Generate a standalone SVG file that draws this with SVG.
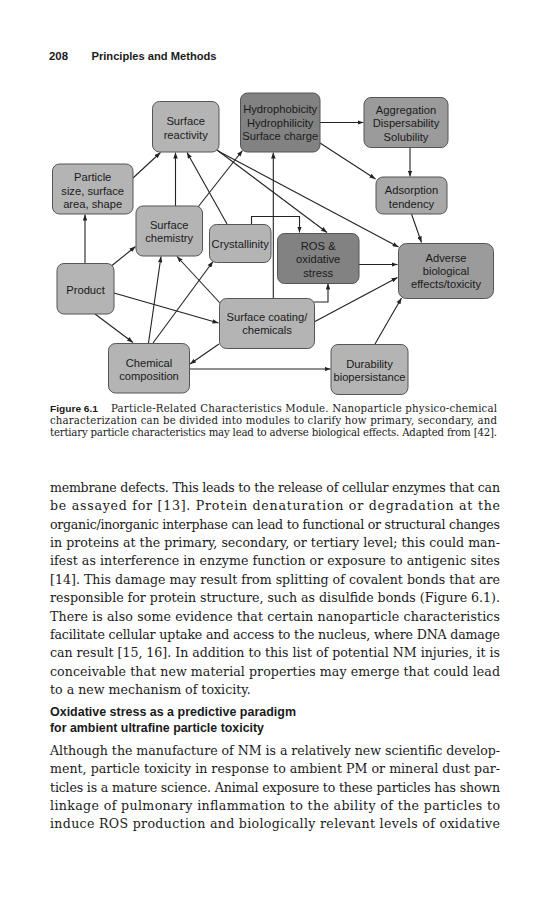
<svg xmlns="http://www.w3.org/2000/svg" width="552" height="900" viewBox="0 0 552 900">
<defs>
<marker id="ah" viewBox="0 0 8 6" refX="8" refY="3" markerWidth="6" markerHeight="4.5" orient="auto" markerUnits="userSpaceOnUse">
<path d="M0,0 L8,3 L0,6 z" fill="#222"/>
</marker>
<style>
.bg{fill:#ffffff}
.n rect{fill:#b4b4b4;stroke:#555555;stroke-width:1}
.n.dk rect{fill:#828282}
.n.md rect{fill:#9b9b9b}
.n.ad rect{fill:#a8a8a8}
.n text{font-family:"Liberation Sans",Arial,sans-serif;font-size:11.2px;fill:#1a1a1a;text-anchor:middle}
.c line,.c path{stroke:#222;stroke-width:1.1;fill:none;marker-end:url(#ah)}
.hd{font-family:"Liberation Sans",Arial,sans-serif;font-weight:bold;font-size:11px;fill:#1a1a1a}
.cap{font-family:"DejaVu Serif","Liberation Serif",serif;font-size:10.2px;fill:#1a1a1a}
.capb{font-family:"Liberation Sans",Arial,sans-serif;font-weight:bold;font-size:9.8px;fill:#1a1a1a}
.body{font-family:"DejaVu Serif","Liberation Serif",serif;font-size:12.6px;fill:#1a1a1a}
.sh{font-family:"Liberation Sans",Arial,sans-serif;font-weight:bold;font-size:12.4px;fill:#1a1a1a}
</style>
</defs>
<rect class="bg" x="0" y="0" width="552" height="900"/>

<g id="page-header">
<text class="hd" x="49" y="60" textLength="19" lengthAdjust="spacingAndGlyphs">208</text>
<text class="hd" x="91.5" y="60" textLength="125" lengthAdjust="spacingAndGlyphs">Principles and Methods</text>
</g>

<g id="connectors" class="c">
<line x1="133" y1="178" x2="160.5" y2="152.5"/>
<line x1="175.5" y1="206" x2="175.5" y2="152.5"/>
<line x1="227" y1="224" x2="187" y2="152.5"/>
<line x1="198" y1="207" x2="242.5" y2="150.5"/>
<line x1="217" y1="150" x2="327" y2="232.5"/>
<line x1="218" y1="151" x2="398.5" y2="247"/>
<line x1="320" y1="122.5" x2="363.5" y2="122.5"/>
<line x1="320" y1="143" x2="375.5" y2="179"/>
<line x1="410" y1="147" x2="410" y2="176.5"/>
<line x1="411.5" y1="214" x2="421.5" y2="242.5"/>
<path d="M251.5,224 V216.5 H299.5 V232.5"/>
<line x1="359" y1="264.5" x2="397.5" y2="264.5"/>
<line x1="273.3" y1="298" x2="273.3" y2="152.5"/>
<path d="M314,302 H328 V283.5"/>
<line x1="314" y1="322" x2="397.5" y2="277.5"/>
<line x1="375" y1="344" x2="401.5" y2="298"/>
<line x1="189" y1="369" x2="330.5" y2="369"/>
<line x1="219" y1="344" x2="190" y2="364"/>
<line x1="85" y1="263" x2="85" y2="214.5"/>
<line x1="112" y1="265.5" x2="135.5" y2="246.5"/>
<line x1="114" y1="293" x2="218.5" y2="323"/>
<line x1="95" y1="314" x2="133" y2="342.5"/>
<line x1="148.5" y1="343" x2="161" y2="256.5"/>
<line x1="153" y1="343" x2="213" y2="261.5"/>
<line x1="220" y1="303" x2="177" y2="256.5"/>
</g>

<g id="surface-reactivity" class="n">
<rect x="152.5" y="101.5" width="66.5" height="50.5" rx="7"/>
<text x="185.7" y="124.5">Surface</text>
<text x="185.7" y="138.5">reactivity</text>
</g>
<g id="hydrophobicity" class="n dk">
<rect x="240.5" y="93" width="79.5" height="59" rx="7"/>
<text x="280.2" y="113">Hydrophobicity</text>
<text x="280.2" y="126.5">Hydrophilicity</text>
<text x="280.2" y="140">Surface charge</text>
</g>
<g id="aggregation" class="n md">
<rect x="364" y="97.5" width="84" height="50" rx="7"/>
<text x="406" y="113.5">Aggregation</text>
<text x="406" y="127">Dispersability</text>
<text x="406" y="140.5">Solubility</text>
</g>
<g id="particle-size" class="n">
<rect x="52.5" y="164" width="80.5" height="50" rx="7"/>
<text x="92.7" y="181">Particle</text>
<text x="92.7" y="194.5">size, surface</text>
<text x="92.7" y="208">area, shape</text>
</g>
<g id="adsorption" class="n ad">
<rect x="376" y="177" width="71" height="37" rx="7"/>
<text x="411.5" y="193.5">Adsorption</text>
<text x="411.5" y="207.5">tendency</text>
</g>
<g id="surface-chemistry" class="n">
<rect x="136" y="206" width="66.5" height="50" rx="7"/>
<text x="169.2" y="229">Surface</text>
<text x="169.2" y="242">chemistry</text>
</g>
<g id="crystallinity" class="n">
<rect x="209.5" y="224.5" width="61.5" height="38" rx="7"/>
<text x="240.2" y="247.5">Crystallinity</text>
</g>
<g id="ros" class="n dk">
<rect x="277.5" y="233.5" width="81.5" height="50" rx="7"/>
<text x="318.2" y="249.5">ROS &amp;</text>
<text x="318.2" y="263">oxidative</text>
<text x="318.2" y="276.5">stress</text>
</g>
<g id="adverse" class="n md">
<rect x="398.5" y="243.5" width="95" height="55" rx="8"/>
<text x="446" y="261.5">Adverse</text>
<text x="446" y="274.5">biological</text>
<text x="446" y="287.5">effects/toxicity</text>
</g>
<g id="product" class="n">
<rect x="57" y="263.5" width="57" height="50.5" rx="7"/>
<text x="85.5" y="293.5">Product</text>
</g>
<g id="surface-coating" class="n">
<rect x="219.5" y="298.5" width="95" height="50" rx="7"/>
<text x="267" y="321">Surface coating/</text>
<text x="267" y="334">chemicals</text>
</g>
<g id="chemical-composition" class="n">
<rect x="108.5" y="343.5" width="81" height="49.5" rx="7"/>
<text x="149" y="367">Chemical</text>
<text x="149" y="380">composition</text>
</g>
<g id="durability" class="n">
<rect x="331" y="344.5" width="77" height="50" rx="7"/>
<text x="369.5" y="367.5">Durability</text>
<text x="369.5" y="380.5">biopersistance</text>
</g>

<g id="caption">
<text class="capb" x="50" y="411.5" textLength="48" lengthAdjust="spacingAndGlyphs">Figure 6.1</text>
<text class="cap" x="111" y="411.5" textLength="386" lengthAdjust="spacing">Particle-Related Characteristics Module. Nanoparticle physico-chemical</text>
<text class="cap" x="50" y="423.5" textLength="447" lengthAdjust="spacing">characterization can be divided into modules to clarify how primary, secondary, and</text>
<text class="cap" x="50" y="435.5" textLength="447" lengthAdjust="spacing">tertiary particle characteristics may lead to adverse biological effects. Adapted from [42].</text>
</g>

<g id="body-text-1">
<text class="body" x="50" y="492" textLength="450" lengthAdjust="spacing">membrane defects. This leads to the release of cellular enzymes that can</text>
<text class="body" x="50" y="510.4" textLength="450" lengthAdjust="spacing">be assayed for [13]. Protein denaturation or degradation at the</text>
<text class="body" x="50" y="528.7" textLength="450" lengthAdjust="spacing">organic/inorganic interphase can lead to functional or structural changes</text>
<text class="body" x="50" y="547.1" textLength="450" lengthAdjust="spacing">in proteins at the primary, secondary, or tertiary level; this could man-</text>
<text class="body" x="50" y="565.4" textLength="450" lengthAdjust="spacing">ifest as interference in enzyme function or exposure to antigenic sites</text>
<text class="body" x="50" y="583.8" textLength="450" lengthAdjust="spacing">[14]. This damage may result from splitting of covalent bonds that are</text>
<text class="body" x="50" y="602.1" textLength="450" lengthAdjust="spacing">responsible for protein structure, such as disulfide bonds (Figure 6.1).</text>
<text class="body" x="50" y="620.5" textLength="450" lengthAdjust="spacing">There is also some evidence that certain nanoparticle characteristics</text>
<text class="body" x="50" y="638.8" textLength="450" lengthAdjust="spacing">facilitate cellular uptake and access to the nucleus, where DNA damage</text>
<text class="body" x="50" y="657.2" textLength="450" lengthAdjust="spacing">can result [15, 16]. In addition to this list of potential NM injuries, it is</text>
<text class="body" x="50" y="675.5" textLength="450" lengthAdjust="spacing">conceivable that new material properties may emerge that could lead</text>
<text class="body" x="50" y="693.9">to a new mechanism of toxicity.</text>
</g>

<g id="section-heading">
<text class="sh" x="50" y="716" textLength="246" lengthAdjust="spacingAndGlyphs">Oxidative stress as a predictive paradigm</text>
<text class="sh" x="50" y="732" textLength="214" lengthAdjust="spacingAndGlyphs">for ambient ultrafine particle toxicity</text>
</g>

<g id="body-text-2">
<text class="body" x="50" y="755" textLength="450" lengthAdjust="spacing">Although the manufacture of NM is a relatively new scientific develop-</text>
<text class="body" x="50" y="773.4" textLength="450" lengthAdjust="spacing">ment, particle toxicity in response to ambient PM or mineral dust par-</text>
<text class="body" x="50" y="791.7" textLength="450" lengthAdjust="spacing">ticles is a mature science. Animal exposure to these particles has shown</text>
<text class="body" x="50" y="810.1" textLength="450" lengthAdjust="spacing">linkage of pulmonary inflammation to the ability of the particles to</text>
<text class="body" x="50" y="828.4" textLength="450" lengthAdjust="spacing">induce ROS production and biologically relevant levels of oxidative</text>
</g>
</svg>
